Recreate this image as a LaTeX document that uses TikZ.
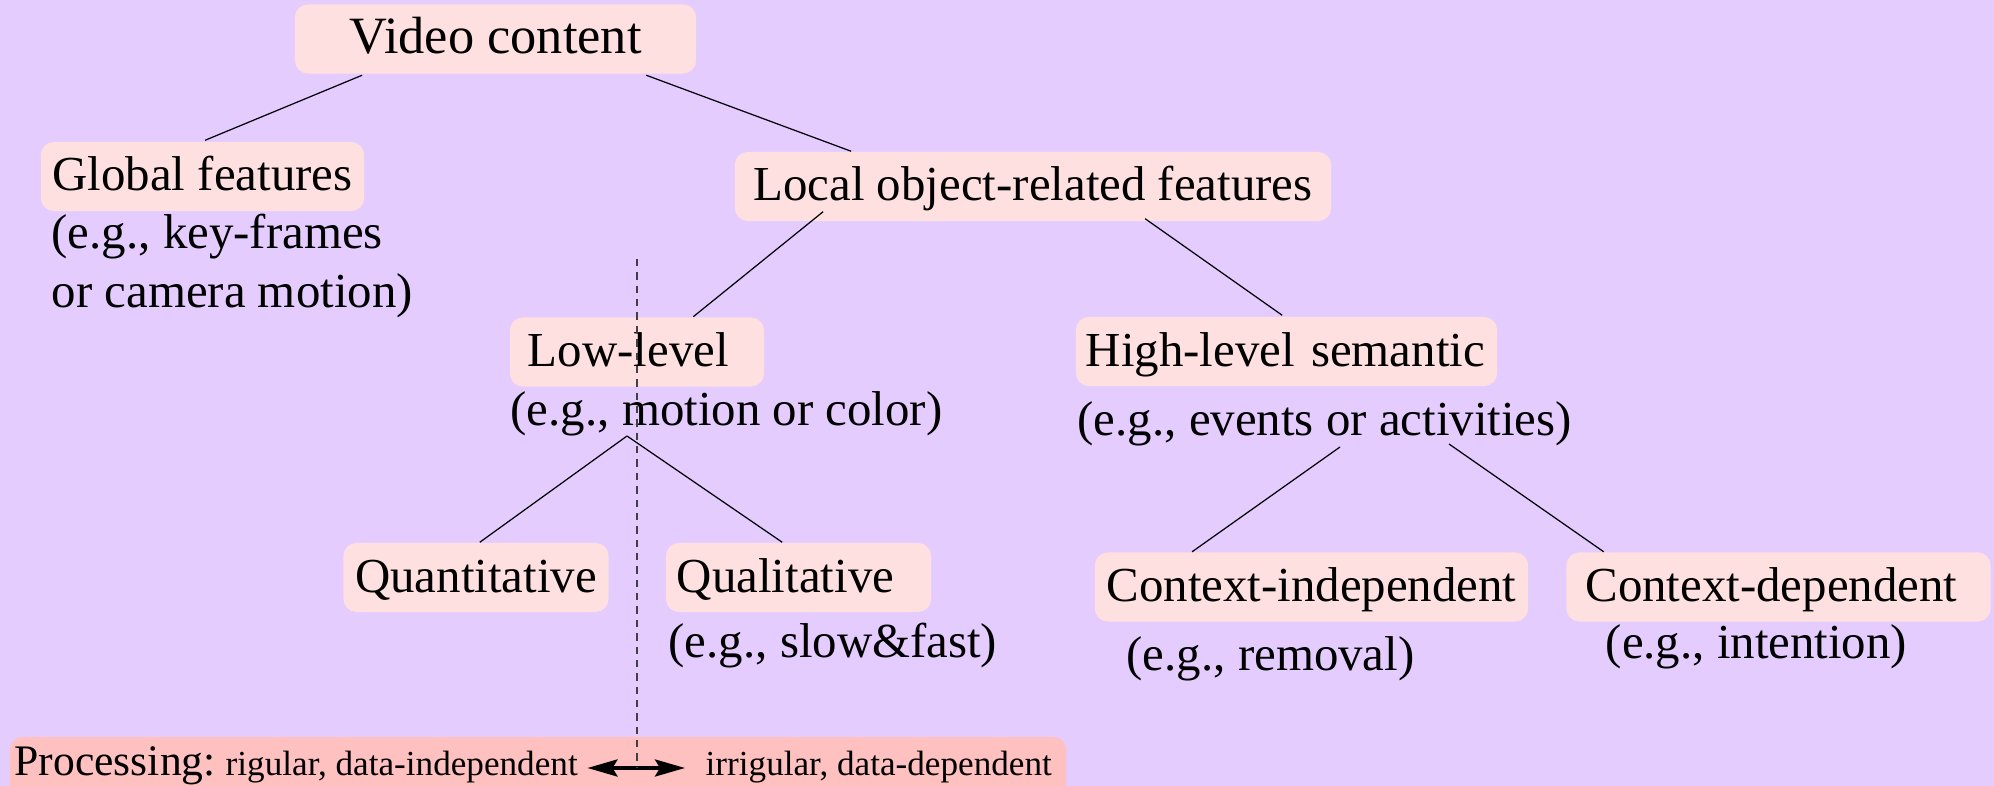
\documentclass[tikz,border=0pt]{standalone}
\usepackage{fontspec}
\setmainfont{Liberation Serif}
\usetikzlibrary{calc,arrows.meta}

\definecolor{bgviolet}{RGB}{229,204,255}
\definecolor{boxpink}{RGB}{255,224,224}
\definecolor{barpink}{RGB}{255,192,192}

\newcommand\mainsz{\fontsize{13.9}{16.7}\selectfont}
\newcommand\titlesz{\fontsize{14.9}{17.9}\selectfont}
\newcommand\procsz{\fontsize{12.4}{15}\selectfont}
\newcommand\notesz{\fontsize{10}{12}\selectfont}

\begin{document}
\begin{tikzpicture}[x=0.01cm,y=-0.01cm,
  box/.style={rectangle, rounded corners=0.13cm, fill=boxpink,
    minimum height=0.69cm, text height=0.39cm, text depth=0.10cm,
    inner ysep=0.05cm, font=\mainsz},
  padbox/.style 2 args={box, align=left, inner xsep=#1, text width=#2},
  lbl/.style={anchor=base west, inner sep=0pt, font=\mainsz},
  link/.style={draw=black, line width=0.35pt},
  divider/.style={draw=black!75, line width=0.5pt, dash pattern=on 2.1pt off 1.7pt},
  dblarrow/.style={draw=black, line width=1pt, <->,
    >={Stealth[length=3mm,width=1.7mm,inset=0.5mm]}}]

% background and page frame
\fill[bgviolet] (0,0) rectangle (1994,786);
\useasboundingbox (0,0) rectangle (1994,786);

% feature boxes
\node[box, font=\titlesz, minimum width=4.01cm] (video) at (495.5,39) {Video content};
\node[box, minimum width=3.21cm] (global) at (202.5,176.5) {Global features};
\node[box, minimum width=5.96cm] (local) at (1033,186.5) {Local object-related features};
\node[padbox={0.18cm}{2.18cm}] (low) at (637,352) {Low-level};
\node[padbox={0.10cm}{4.01cm}] (high) at (1286.5,351.5) {High-level semantic};
\node[box, minimum width=2.64cm] (quant) at (476,577.5) {Quantitative};
\node[padbox={0.11cm}{2.43cm}] (qual) at (798.5,577.5) {Qualitative};
\node[box, minimum width=4.29cm] (cind) at (1311.5,587) {Context-independent};
\node[padbox={0.19cm}{3.86cm}] (cdep) at (1778.5,587) {Context-dependent};

% examples under the boxes
\node[lbl] (gex1) at (51,249) {(e.g., key-frames};
\node[lbl] (gex2) at (51,308) {or camera motion)};
\node[lbl] (lowex) at (510,426) {(e.g., motion or color)};
\node[lbl] (hiex) at (1077,436) {(e.g., events or activities)};
\node[lbl] (qualex) at (668,658) {(e.g., slow\&fast)};
\node[lbl] (cindex) at (1126,671) {(e.g., removal)};
\node[lbl] (cdepex) at (1605,659) {(e.g., intention)};

% tree connectors
\draw[link] ($(video.south west)+(68,1)$) -- ($(global.north west)+(165,-1)$);
\draw[link] ($(video.south west)+(352,1)$) -- ($(local.north west)+(117,0)$);
\draw[link] ($(local.south west)+(89,-10)$) -- ($(low.north west)+(184,0)$);
\draw[link] ($(local.south west)+(411,-3)$) -- ($(high.north west)+(207,-1)$);
\coordinate (lowfork) at ($(lowex.base west)+(117,10)$);
\draw[link] (lowfork) -- ($(quant.north west)+(137,0)$);
\draw[link] (lowfork) -- ($(qual.north west)+(117,0)$);
\draw[link] ($(hiex.base west)+(263,11)$) -- ($(cind.north west)+(98,0)$);
\draw[link] ($(hiex.base west)+(372,8)$) -- ($(cdep.north west)+(38,0)$);

% processing bar
\begin{scope}
  \clip (0,0) rectangle (1994,786);
  \node[rectangle, rounded corners=0.13cm, fill=barpink, minimum width=10.56cm,
        minimum height=0.73cm, inner sep=0pt] (bar) at (538,773.5) {};
\end{scope}
\node[lbl, font=\procsz] (proc) at (14,776) {Processing:};
\node[lbl, font=\notesz] (reg) at (225,776) {rigular, data-independent};
\node[lbl, font=\notesz] (irr) at (705,776) {irrigular, data-dependent};
\coordinate (arL) at ($(reg.base east)+(9,-8)$);
\coordinate (arR) at ($(irr.base west)+(-20,-8)$);
\draw[dblarrow] (arL) -- (arR);

% dashed divider
\coordinate (dtop) at (637,259);
\draw[divider] (dtop) -- (dtop |- arL);
\end{tikzpicture}
\end{document}
